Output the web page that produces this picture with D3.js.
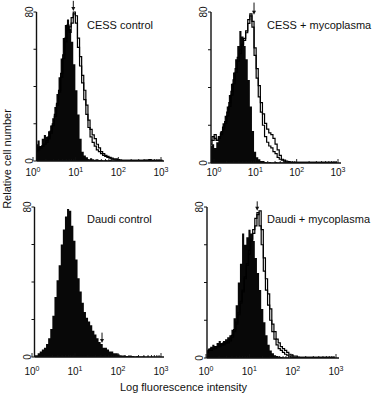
<!DOCTYPE html>
<html>
<head>
<meta charset="utf-8">
<script src="https://cdn.jsdelivr.net/npm/d3@7"></script>
<style>
body { margin: 0; background: #fff; }
text { font-family: "Liberation Sans", Arial, sans-serif; fill: #111; }
</style>
</head>
<body>
<div id="chart"></div>
<script>
// flow cytometry histograms, 61 channels over 3 log decades
const channels = d3.range(0, 61);
const panelTitles = ["CESS control", "CESS + mycoplasma", "Daudi control", "Daudi + mycoplasma"];
const yTicks = [0, 20, 40, 60, 80];
const yLabelled = [0, 80];
const xDecades = [1, 10, 100, 1000];
const xExponents = ["0", "1", "2", "3"];
const yTitle = "Relative cell number";
const xTitle = "Log fluorescence intensity";

// arrows (median fluorescence marks)
const arrowAt = [8.8, 9.3, 42.5, 15.2];
const arrowTop = [86, 85, 13, 83];
const arrowTip = [80.5, 78.5, 7.5, 78];

const cessCtrlFill = [9,11,8,12,14,13,16,19,23,29,36,45,55,66,73,76,71,64,52,38,25,12,5,3,2,1,1.5,1,0.5,1,0.5,0.5,0.3,0.5,0.3,0.6,0.3,0.3,0.5,0.3,0.2,0.4,0.2,0.3,0.2,0.5,0.2,0.3,0.2,0.2,0.4,0.2,0.6,0.2,0.3,0.5,0.2,0.2,0.3,0.2,0.2];
const cessCtrlLineA = [6,7,7,8,9,11,13,16,20,25,31,38,47,57,66,73,69,77,80,74,61,51,42,33,25,18,13,10,8,6,5,4,3,2.5,2,1.5,1,1,1,0.5,0.5,0.3,0.3,0.3,0.3,0.3,0.3,0.3,0.3,0.3,0.3,0.3,0.5,0.3,0.8,0.3,0.3,0.3,0.3,0.3,0.3];
const cessCtrlLineB = [5,6,7,8,9,10,12,15,19,24,30,37,45,55,64,70,72,74,79,78,66,56,46,38,30,22,17,14,12,9,7,5,4,3,2.5,2,1.5,1,1,0.8,0.5,0.3,0.3,0.3,0.3,0.3,0.3,0.3,0.3,0.3,0.3,0.3,0.3,0.3,0.3,0.3,0.3,0.3,0.3,0.3,0.3];

const cessMycoFill = [9,10,8,11,14,17,21,25,30,36,42,48,55,62,70,67,62,55,44,30,17,6,3,2,1,1,0.5,0.3,0.5,0.3,0.3,0.5,0.2,0.3,0.2,0.4,0.2,0.2,0.3,0.2,0.2,0.2,0.3,0.2,0.2,0.2,0.2,0.2,0.3,0.2,0.2,0.2,0.2,0.2,0.2,0.2,0.2,0.2,0.2,0.2,0.2];
const cessMycoLineA = [12,14,13,12,14,16,19,22,27,32,38,44,50,56,60,63,66,70,74,79,75,61,50,41,32,26,21,18,16,15,13,10,7,4,2,1.5,1,0.8,0.5,0.3,0.3,0.3,0.3,0.3,0.3,0.3,0.3,0.3,0.3,0.3,0.3,0.3,0.3,0.3,0.3,0.3,0.3,0.3,0.3,0.3,0.3];
const cessMycoLineB = [10,12,15,12,13,15,18,21,25,30,36,42,48,54,58,62,65,69,76,78,72,57,45,35,27,20,14,11,9,8,6,5,3,2,1.5,1,0.5,0.3,0.3,0.3,0.3,0.3,0.3,0.3,0.3,0.3,0.3,0.3,0.3,0.3,0.3,0.3,0.3,0.3,0.3,0.3,0.3,0.3,0.3,0.3,0.3];

const daudiCtrlFill = [1,1,2,3,4,5,7,10,15,22,32,41,49,60,68,75,79,78,70,62,52,42,35,29,24,21,19,17,14,12,10,8,7,5,5,4,3,3,2,2,1.5,1,0.8,1,0.5,0.8,0.5,0.5,0.3,0.5,0.3,0.3,0.4,0.2,0.3,0.2,0.3,0.2,0.2,0.2,0.2];

const daudiMycoFill = [4,5,6,7,6,8,9,8,9,10,11,12,15,21,28,40,50,66,60,64,68,66,62,53,45,36,26,19,12,7,4,2.5,1.5,1,0.8,0.5,0.3,0.3,0.2,0.3,0.2,0.2,0.2,0.2,0.2,0.2,0.2,0.2,0.2,0.2,0.2,0.2,0.2,0.2,0.2,0.2,0.2,0.2,0.2,0.2,0.2];
const daudiMycoLineA = [3,4,5,5,6,6,7,7,8,8,9,10,12,15,19,24,30,36,43,50,57,63,66,70,76,78,68,53,42,34,26,18,14,10,8,6,5,4,3,2,1.5,1,1,0.5,0.3,0.3,0.3,0.3,0.3,0.3,0.3,0.3,0.3,0.3,0.3,0.3,0.3,0.3,0.3,0.3,0.3];
const daudiMycoLineB = [3,4,4,5,5,6,6,7,7,8,8,9,11,14,18,23,29,35,42,49,55,62,68,74,77,70,60,46,36,28,20,14,10,7,5,4,3,2,1.5,1,0.5,0.3,0.3,0.3,0.3,0.3,0.3,0.3,0.3,0.3,0.3,0.3,0.3,0.3,0.3,0.3,0.3,0.3,0.3,0.3,0.3];

const fills = [cessCtrlFill, cessMycoFill, daudiCtrlFill, daudiMycoFill];
const outlines = [[cessCtrlLineA, cessCtrlLineB], [cessMycoLineA, cessMycoLineB], [], [daudiMycoLineA, daudiMycoLineB]];

// layout for each panel
const layout = [
    {axisX: 36.5, chW: 2.1,   x0: 33,  x3: 161, top: 12,  bot: 161, titleX: 87,  titleY: 29,  labelY: 176},
    {axisX: 211,  chW: 2.1,   x0: 214, x3: 338, top: 12,  bot: 163, titleX: 267, titleY: 29,  labelY: 176},
    {axisX: 34.5, chW: 2.1,   x0: 32,  x3: 161, top: 207, bot: 357, titleX: 87,  titleY: 223, labelY: 375},
    {axisX: 207,  chW: 2.125, x0: 206, x3: 336, top: 207, bot: 358, titleX: 267, titleY: 223, labelY: 375}
];

let svg = d3.select("#chart")
    .append("svg")
    .attr("width", 373)
    .attr("height", 395);

layout.forEach(function(p, k) {
    let g = svg.append("g");

    let xLog = d3.scaleLog().domain([1, 1000]).range([p.x0, p.x3]);
    let xCh = d3.scaleLinear().domain([0, 60]).range([p.axisX, p.axisX + 60 * p.chW]);
    let y = d3.scaleLinear().domain([0, 80]).range([p.bot, p.top]);

    // filled histogram
    let area = d3.area()
        .x(function(d, i) { return xCh(channels[i]); })
        .y0(p.bot)
        .y1(function(d) { return y(d); })
        .curve(d3.curveStep);

    g.append("path")
        .datum(fills[k])
        .attr("d", area)
        .attr("fill", "#080808");

    // open histograms
    let line = d3.line()
        .x(function(d, i) { return xCh(channels[i]); })
        .y(function(d) { return y(d); })
        .curve(d3.curveStep);

    outlines[k].forEach(function(s) {
        g.append("path")
            .datum(s)
            .attr("d", line)
            .attr("fill", "none")
            .attr("stroke", "#000")
            .attr("stroke-width", 1.2);
    });

    // y axis
    g.append("line")
        .attr("x1", p.axisX).attr("x2", p.axisX)
        .attr("y1", y(0)).attr("y2", y(80))
        .attr("stroke", "#111").attr("stroke-width", 1.4);

    g.selectAll(".ytick")
        .data(yTicks)
        .enter()
        .append("line")
        .attr("x1", p.axisX - 3).attr("x2", p.axisX)
        .attr("y1", function(d) { return y(d); })
        .attr("y2", function(d) { return y(d); })
        .attr("stroke", "#111").attr("stroke-width", 1);

    g.selectAll(".ylab")
        .data(yLabelled)
        .enter()
        .append("text")
        .attr("transform", function(d) { return `translate(${p.axisX - 4}, ${y(d)}) rotate(-90)`; })
        .style("text-anchor", "middle")
        .style("font-size", "10px")
        .text(function(d) { return d; });

    // x axis
    g.append("line")
        .attr("x1", p.axisX).attr("x2", p.x3 + 3)
        .attr("y1", p.bot).attr("y2", p.bot)
        .attr("stroke", "#111").attr("stroke-width", 1.4);

    g.selectAll(".xminor")
        .data(xLog.ticks())
        .enter()
        .append("line")
        .attr("x1", function(d) { return xLog(d); })
        .attr("x2", function(d) { return xLog(d); })
        .attr("y1", p.bot)
        .attr("y2", function(d) { return xDecades.indexOf(d) >= 0 ? p.bot - 4 : p.bot - 2; })
        .attr("stroke", "#111").attr("stroke-width", 0.9);

    let lab = g.selectAll(".xlab")
        .data(xDecades)
        .enter()
        .append("text")
        .attr("x", function(d) { return xLog(d); })
        .attr("y", p.labelY)
        .style("text-anchor", "middle")
        .style("font-size", "10px");
    lab.append("tspan").text("10");
    lab.append("tspan")
        .attr("dy", -4)
        .style("font-size", "7px")
        .text(function(d, i) { return xExponents[i]; });

    // arrow
    let ax = xLog(arrowAt[k]);
    g.append("line")
        .attr("x1", ax).attr("x2", ax)
        .attr("y1", y(arrowTop[k])).attr("y2", y(arrowTip[k]) - 3)
        .attr("stroke", "#111").attr("stroke-width", 1);
    g.append("path")
        .attr("d", `M${ax - 2},${y(arrowTip[k]) - 4}L${ax + 2},${y(arrowTip[k]) - 4}L${ax},${y(arrowTip[k])}Z`)
        .attr("fill", "#111");

    // title
    g.append("text")
        .attr("x", p.titleX)
        .attr("y", p.titleY)
        .style("font-size", "11px")
        .text(panelTitles[k]);
});

svg.append("text")
    .attr("transform", "translate(11, 159) rotate(-90)")
    .style("text-anchor", "middle")
    .style("font-size", "11px")
    .text(yTitle);

svg.append("text")
    .attr("x", 183.5)
    .attr("y", 391)
    .style("text-anchor", "middle")
    .style("font-size", "11px")
    .text(xTitle);
</script>
</body>
</html>
